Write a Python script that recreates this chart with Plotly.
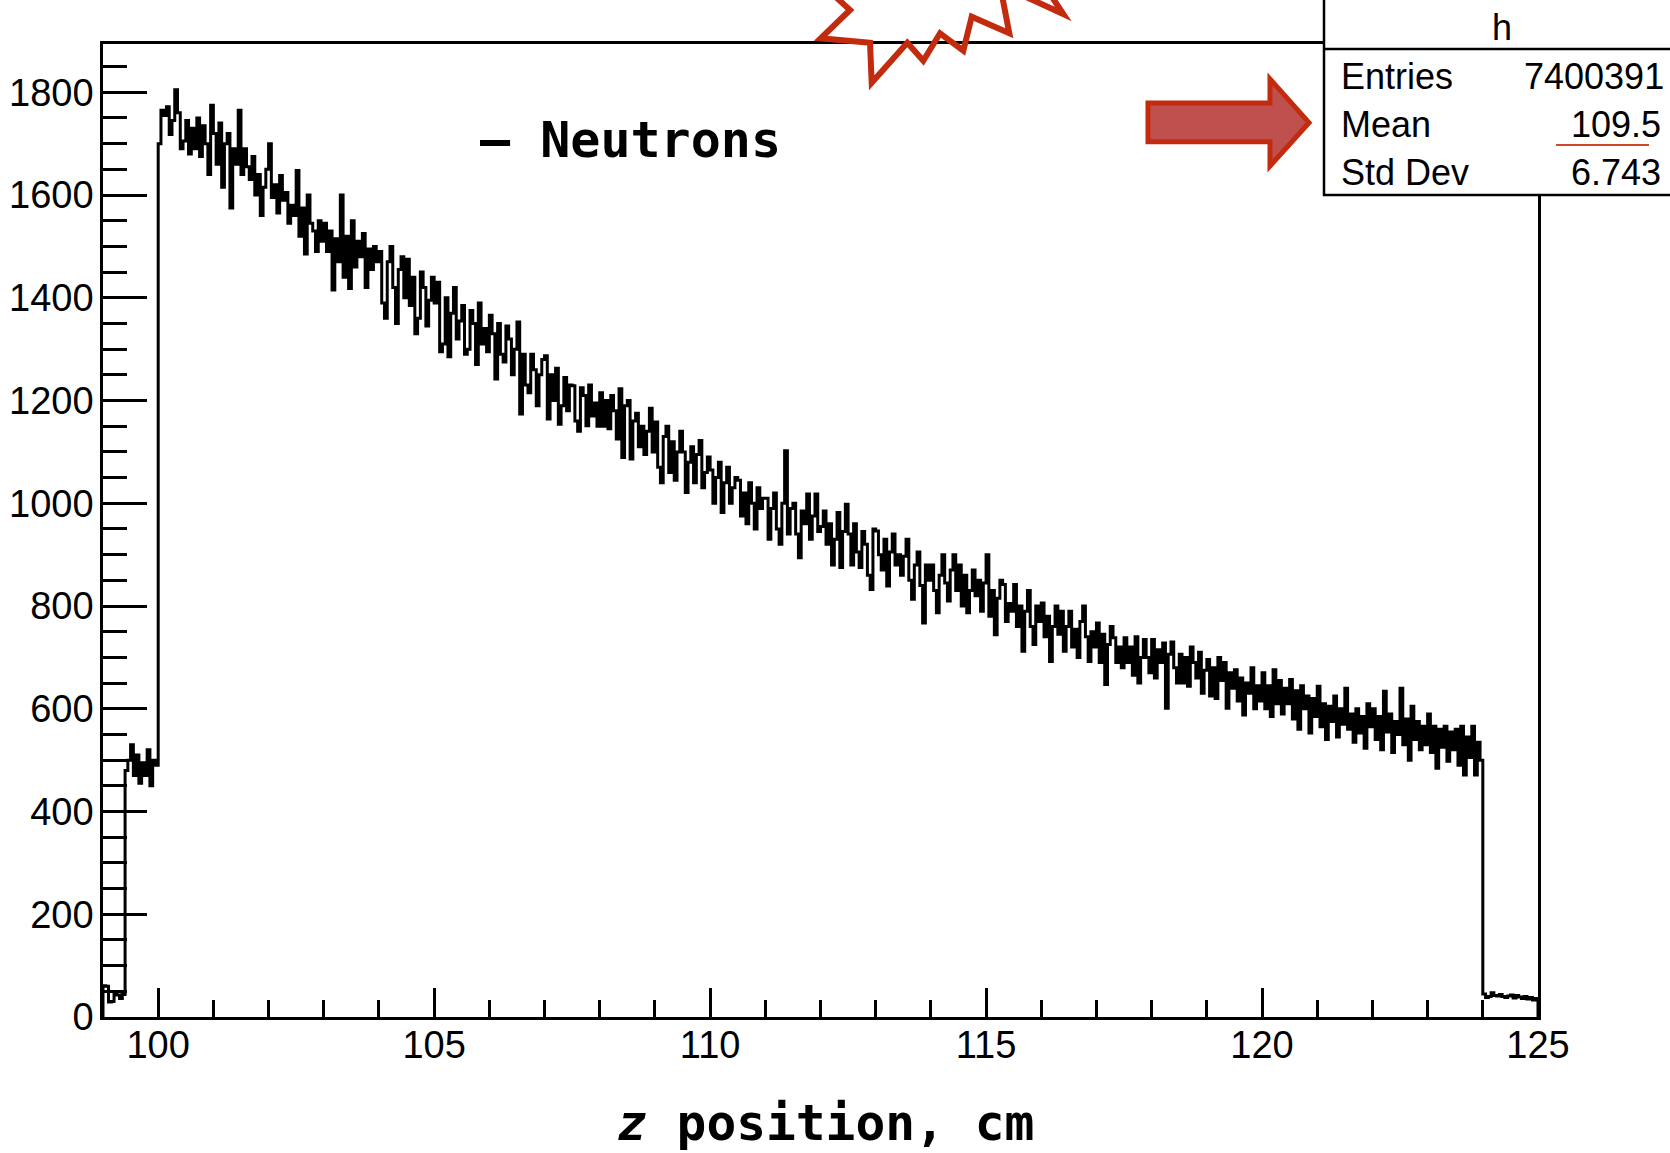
import plotly.graph_objects as go

# ---------------- data ----------------
X_LOW = 99.0          # first bin low edge, cm
BIN_WIDTH = 0.05      # cm
X_RANGE = [99, 125]
Y_RANGE = [0, 1894]

counts_floor_left = [61, 60, 29, 30, 44, 43, 36, 44]                           # 99.0 - 99.4
counts_shoulder = [480, 500, 530, 470, 510, 455, 495, 470, 520, 450, 500, 490]  # 99.4 - 100.0
counts_main = [                                                                 # 100.0 - 124.0
    1700, 1765, 1755, 1772, 1718, 1745, 1805, 1760, 1690, 1705,
    1745, 1680, 1730, 1690, 1750, 1675, 1735, 1700, 1640, 1775,
    1720, 1660, 1740, 1615, 1700, 1720, 1575, 1690, 1660, 1765,
    1640, 1690, 1655, 1630, 1675, 1600, 1640, 1560, 1615, 1650,
    1700, 1595, 1620, 1565, 1638, 1590, 1605, 1545, 1580, 1560,
    1648, 1520, 1575, 1485, 1600, 1545, 1530, 1490, 1550, 1510,
    1545, 1490, 1530, 1415, 1515, 1470, 1600, 1440, 1520, 1418,
    1550, 1460, 1510, 1480, 1525, 1420, 1495, 1455, 1500, 1470,
    1490, 1390, 1360, 1470, 1500, 1420, 1350, 1455, 1480, 1400,
    1475, 1385, 1440, 1330, 1360, 1450, 1420, 1345, 1395, 1440,
    1390, 1430, 1295, 1310, 1400, 1285, 1370, 1420, 1320, 1355,
    1385, 1290, 1300, 1375, 1350, 1270, 1390, 1310, 1340, 1295,
    1366, 1330, 1242, 1350, 1290, 1275, 1345, 1320, 1250, 1300,
    1353, 1174, 1290, 1230, 1215, 1290, 1260, 1190, 1250, 1280,
    1287, 1164, 1250, 1200, 1263, 1154, 1190, 1245, 1180, 1230,
    1229, 1160, 1140, 1225, 1210, 1151, 1230, 1170, 1195, 1150,
    1215, 1150, 1200, 1145, 1210, 1180, 1125, 1223, 1089, 1190,
    1200, 1086, 1160, 1175, 1110, 1150, 1095, 1140, 1185, 1100,
    1158, 1070, 1040, 1130, 1150, 1060, 1120, 1045, 1100, 1140,
    1100, 1021, 1080, 1110, 1040, 1095, 1122, 1030, 1060, 1090,
    1065, 1000, 1050, 1080, 982, 1040, 1070, 1000, 1030, 1050,
    1045, 975, 1020, 960, 1040, 1000, 950, 1030, 990, 1010,
    1010, 930, 990, 1020, 950, 920, 1000, 1102, 940, 990,
    1000, 940, 894, 985, 960, 1018, 930, 975, 1018, 945,
    955, 985, 920, 960, 880, 930, 982, 875, 945, 998,
    940, 880, 960, 905, 875, 945, 920, 860, 832, 950,
    946, 900, 870, 930, 839, 905, 940, 880, 900, 860,
    897, 930, 850, 813, 880, 905, 840, 767, 880, 850,
    880, 830, 787, 860, 900, 845, 810, 870, 900, 830,
    880, 800, 860, 787, 830, 870, 820, 850, 790, 845,
    900, 780, 830, 744, 815, 850, 842, 770, 805, 790,
    842, 760, 800, 712, 790, 830, 760, 725, 800, 770,
    806, 740, 780, 692, 760, 800, 745, 790, 712, 760,
    790, 720, 755, 700, 770, 800, 740, 692, 750, 720,
    767, 690, 745, 647, 725, 760, 738, 690, 720, 680,
    738, 690, 720, 665, 740, 650, 700, 735, 700, 670,
    735, 660, 715, 690, 728, 601, 706, 730, 680, 650,
    706, 650, 700, 644, 720, 690, 660, 710, 630, 675,
    696, 625, 680, 620, 700, 655, 690, 601, 670, 640,
    676, 615, 660, 588, 650, 630, 680, 600, 645, 615,
    670, 600, 645, 585, 676, 610, 655, 590, 640, 610,
    657, 580, 635, 560, 645, 600, 625, 553, 620, 585,
    644, 565, 610, 540, 605, 575, 625, 545, 600, 570,
    640, 560, 590, 535, 600, 553, 585, 523, 610, 565,
    600, 540, 585, 520, 634, 555, 590, 515, 575, 550,
    640, 530, 580, 500, 605, 540, 575, 520, 566, 530,
    590, 515, 566, 484, 560, 525, 566, 498, 555, 520,
    560, 490, 566, 471, 545, 505, 566, 471, 535, 500,
]
counts_floor_right = [45, 38, 40, 47, 42, 41, 44, 40, 38, 41,
                      43, 37, 42, 39, 36, 40, 35, 38, 33, 36]                   # 124.0 - 125.0

x_major_ticks = [100, 105, 110, 115, 120, 125]
y_major_ticks = [0, 200, 400, 600, 800, 1000, 1200, 1400, 1600, 1800]

stats_title = "h"
stats_names = ["Entries", "Mean", "Std Dev"]
stats_values = ["7400391", "109.5", "6.743"]
legend_text = "\u2013 Neutrons"
x_title = "<i>z</i> position, cm"

# ---------------- build histogram outline ----------------
counts = counts_floor_left + counts_shoulder + counts_main + counts_floor_right
n = len(counts)
edges = [round(X_LOW + i * BIN_WIDTH, 6) for i in range(n + 1)]
x_line = [edges[0]] + edges[:-1] + [edges[-1], edges[-1]]
y_line = [0] + counts + [counts[-1], 0]

# ---------------- layout geometry (page pixels) ----------------
FIG_W, FIG_H = 1670, 1153
L, T, R, B = 103, 44, 132, 136
W = FIG_W - L - R
H = FIG_H - T - B


def px(x):
    return (x - L) / W


def py(y):
    return 1 - (y - T) / H


def path(points, close=False):
    s = "M " + " L ".join(f"{px(x):.5f},{py(y):.5f}" for x, y in points)
    return s + (" Z" if close else "")


fig = go.Figure()
fig.add_trace(go.Scatter(
    x=x_line, y=y_line, mode="lines",
    line=dict(color="black", width=3, shape="hv"),
    showlegend=False, hoverinfo="skip",
))

tick_font = dict(family="Liberation Sans, Arial, sans-serif", size=38, color="black")

fig.update_layout(
    width=FIG_W, height=FIG_H,
    margin=dict(l=L, r=R, t=T, b=B, pad=0, autoexpand=False),
    paper_bgcolor="white", plot_bgcolor="white",
    showlegend=False,
    xaxis=dict(
        range=X_RANGE, tickmode="array", tickvals=x_major_ticks,
        ticktext=[str(v) for v in x_major_ticks],
        ticks="inside", ticklen=29, tickwidth=2.5, tickcolor="black",
        minor=dict(ticks="inside", ticklen=17, tickwidth=2.5, tickcolor="black",
                   tickmode="linear", tick0=99, dtick=1, showgrid=False),
        showline=True, linewidth=2.5, linecolor="black", mirror=True,
        showgrid=False, zeroline=False, tickfont=tick_font,
        ticklabelstandoff=-7, automargin=False,
    ),
    yaxis=dict(
        range=Y_RANGE, tickmode="array", tickvals=y_major_ticks,
        ticktext=[str(v) for v in y_major_ticks],
        ticks="inside", ticklen=44, tickwidth=2.5, tickcolor="black",
        minor=dict(ticks="inside", ticklen=24, tickwidth=2.5, tickcolor="black",
                   tickmode="linear", tick0=0, dtick=50, showgrid=False),
        showline=True, linewidth=2.5, linecolor="black", mirror=True,
        showgrid=False, zeroline=False, tickfont=tick_font,
        ticklabelstandoff=-1, automargin=False,
    ),
)

RED_LINE = "#C22B0E"
RED_FILL = "#C0504D"

shapes = [
    # stats box
    dict(type="rect", xref="paper", yref="paper",
         x0=px(1324), x1=px(1720), y0=py(195), y1=py(-30),
         line=dict(color="black", width=2.5), fillcolor="white", layer="above"),
    dict(type="line", xref="paper", yref="paper",
         x0=px(1324), x1=px(1720), y0=py(49), y1=py(49),
         line=dict(color="black", width=2.5), layer="above"),
    # red underline under the mean value
    dict(type="line", xref="paper", yref="paper",
         x0=px(1556), x1=px(1649), y0=py(145), y1=py(145),
         line=dict(color="#D2452B", width=2), layer="above"),
    # arrow
    dict(type="path", xref="paper", yref="paper",
         path=path([(1148, 103), (1270, 103), (1270, 79), (1309, 122.7),
                    (1270, 166), (1270, 141.7), (1148, 141.7)], close=True),
         fillcolor=RED_FILL, line=dict(color=RED_LINE, width=5), layer="above"),
    # starburst outline
    dict(type="path", xref="paper", yref="paper",
         path=path([(826, -12), (850, 10), (820.7, 38.3), (870, 42.7), (871.7, 82.7),
                    (907.3, 42.7), (923.3, 60.7), (940, 33.3), (963.3, 50.7),
                    (971.7, 16.7), (1009.3, 33.3), (1000, -15), (1063.3, 14),
                    (1046, -12)]),
         fillcolor="rgba(0,0,0,0)", line=dict(color=RED_LINE, width=6), layer="above"),
]
fig.update_layout(shapes=shapes)

stat_font = dict(family="Liberation Sans, Arial, sans-serif", size=36, color="black")
annotations = [
    dict(text=stats_title, x=px(1502), y=py(28), xanchor="center", yanchor="middle"),
]
row_y = [76, 124.5, 172.5]
value_x = [1665, 1662, 1662]
for name, val, ry, vx in zip(stats_names, stats_values, row_y, value_x):
    annotations.append(dict(text=name, x=px(1340), y=py(ry), xanchor="left", yanchor="middle"))
    annotations.append(dict(text=val, x=px(vx), y=py(ry), xanchor="right", yanchor="middle"))
for a in annotations:
    a.update(xref="paper", yref="paper", showarrow=False, font=stat_font, borderpad=0)

mono_font = dict(family="DejaVu Sans Mono, monospace", size=50, color="black", weight="bold")
annotations.append(dict(text=legend_text, x=px(479), y=py(140), xref="paper", yref="paper",
                        xanchor="left", yanchor="middle", showarrow=False, font=mono_font,
                        borderpad=0))
annotations.append(dict(text=x_title, x=px(825), y=py(1123), xref="paper", yref="paper",
                        xanchor="center", yanchor="middle", showarrow=False,
                        font=dict(family="DejaVu Sans Mono, monospace", size=49.5,
                                  color="black", weight="bold"), borderpad=0))
fig.update_layout(annotations=annotations)

fig.write_html("out.html",
               config={"displayModeBar": False},
               post_script="document.body.style.margin='0';document.body.style.overflow='hidden';")
